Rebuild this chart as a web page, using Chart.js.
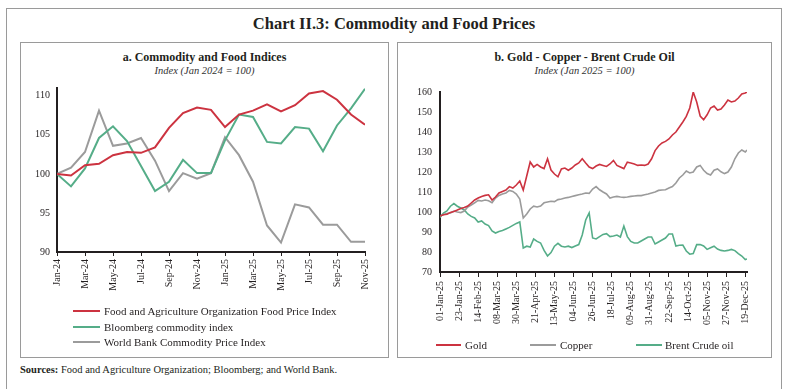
<!DOCTYPE html>
<html><head><meta charset="utf-8">
<script src="https://cdn.jsdelivr.net/npm/chart.js@4/dist/chart.umd.min.js"></script>
<style>
body{margin:0;width:788px;height:389px;background:#fff;position:relative;overflow:hidden;font-family:"Liberation Serif","Times New Roman",serif;color:#231f20}
.a{position:absolute;white-space:nowrap}
.box{position:absolute;border:1.5px solid #9a9a9a;box-sizing:border-box}
.t{text-align:center}
.leg{position:absolute;height:2px}
.lt{position:absolute;font-size:11px;line-height:14px;white-space:nowrap}
canvas{position:absolute}
</style></head><body>
<div class="box" style="left:6px;top:8px;width:776px;height:390px"></div>
<div class="box" style="left:20px;top:42px;width:369px;height:316px"></div>
<div class="box" style="left:397px;top:42px;width:375px;height:316px"></div>
<div class="a t" style="left:6px;width:776px;top:13px;font-size:16.5px;line-height:22px;font-weight:bold">Chart II.3: Commodity and Food Prices</div>
<div class="a t" style="left:20px;width:369px;top:50px;font-size:12px;line-height:14px;font-weight:bold">a. Commodity and Food Indices</div>
<div class="a t" style="left:20px;width:369px;top:64px;font-size:10.5px;line-height:13px;font-style:italic;color:#333">Index (Jan 2024 = 100)</div>
<div class="a t" style="left:397px;width:375px;top:50px;font-size:12px;line-height:14px;font-weight:bold">b. Gold - Copper - Brent Crude Oil</div>
<div class="a t" style="left:397px;width:375px;top:64px;font-size:10.5px;line-height:13px;font-style:italic;color:#333">Index (Jan 2025 = 100)</div>

<canvas id="c1" width="360" height="220" style="left:20px;top:75px"></canvas>
<canvas id="c2" width="370" height="250" style="left:398px;top:78px"></canvas>

<div class="leg" style="left:73px;top:310px;width:27px;background:#cc3340"></div>
<div class="lt" style="left:104px;top:304px">Food and Agriculture Organization Food Price Index</div>
<div class="leg" style="left:73px;top:326px;width:27px;background:#55ad88"></div>
<div class="lt" style="left:104px;top:320px">Bloomberg commodity index</div>
<div class="leg" style="left:73px;top:341px;width:27px;background:#9b9b9b"></div>
<div class="lt" style="left:104px;top:335px">World Bank Commodity Price Index</div>

<div class="leg" style="left:436px;top:344px;width:25px;background:#cc3340"></div>
<div class="lt" style="left:465px;top:338px">Gold</div>
<div class="leg" style="left:530px;top:344px;width:26px;background:#9b9b9b"></div>
<div class="lt" style="left:560px;top:338px">Copper</div>
<div class="leg" style="left:636px;top:344px;width:26px;background:#55ad88"></div>
<div class="lt" style="left:665px;top:338px">Brent Crude oil</div>

<div class="a" style="left:20px;top:363px;font-size:10.5px;line-height:14px"><b>Sources:</b> Food and Agriculture Organization; Bloomberg; and World Bank.</div>

<script>
// ---- Panel a data (monthly) ----
const months = ['Jan-24','Feb-24','Mar-24','Apr-24','May-24','Jun-24','Jul-24','Aug-24','Sep-24','Oct-24','Nov-24','Dec-24',
  'Jan-25','Feb-25','Mar-25','Apr-25','May-25','Jun-25','Jul-25','Aug-25','Sep-25','Oct-25','Nov-25'];
const fao = [100.0, 99.8, 101.1, 101.3, 102.4, 102.8, 102.7, 103.4, 105.9, 107.8, 108.5, 108.2, 106.0, 107.6, 108.1, 108.9, 108.0, 108.8, 110.3, 110.6, 109.5, 107.6, 106.3];
const bloomberg = [100.0, 98.4, 100.7, 104.6, 106.1, 104.2, 101.0, 97.8, 99.0, 101.8, 100.1, 100.1, 104.3, 107.6, 107.3, 104.1, 103.9, 106.0, 105.8, 102.9, 106.2, 108.4, 110.9];
const worldBank = [100.0, 100.8, 102.8, 108.1, 103.6, 103.9, 104.6, 101.7, 97.8, 100.1, 99.4, 100.1, 104.7, 102.4, 99.0, 93.4, 91.2, 96.1, 95.7, 93.5, 93.5, 91.3, 91.3];
const yTicksA = [90, 95, 100, 105, 110];

// ---- Panel b data (days since 01-Jan-25) ----
const dateLabels = ['01-Jan-25','23-Jan-25','14-Feb-25','08-Mar-25','30-Mar-25','21-Apr-25','13-May-25','04-Jun-25','26-Jun-25',
  '18-Jul-25','09-Aug-25','31-Aug-25','22-Sep-25','14-Oct-25','05-Nov-25','27-Nov-25','19-Dec-25'];
const dateTickDays = [0,22,44,66,88,110,132,154,176,198,220,242,264,286,308,330,352];
const days = [0,4,8,12,16,20,24,28,32,36,40,44,48,52,56,60,64,68,72,76,80,84,88,92,96,100,104,108,112,116,
  120,124,128,132,136,140,144,148,152,156,160,164,168,172,176,180,184,188,192,196,200,204,208,212,216,220,224,228,232,236,
  240,244,248,252,256,260,264,268,272,276,280,284,288,292,296,300,304,308,312,316,320,324,328,332,336,340,344,348,352,354];
const gold = [98, 98.6, 98.9, 99.8, 100.3, 101, 101.8, 102.3, 103, 104.5,
 106, 107, 107.8, 108.3, 108.6, 106, 107.5, 109.5, 110.3, 111,
 112.7, 112, 113.5, 115.5, 111, 118, 125, 122.5, 123.8, 122.5,
 121.7, 126.6, 121, 119, 117.6, 121.5, 122, 120.9, 122, 123.5,
 124.5, 126.6, 124.5, 122.5, 121.7, 123, 123.8, 123.3, 122.8, 124,
 125.8, 123.3, 122.5, 121.7, 124.9, 124.5, 124, 123.3, 123.5, 123.3,
 124, 126.6, 130.7, 133, 134.5, 135.3, 136.5, 138.5, 140, 142.5,
 145, 147.8, 152, 160, 155, 148, 146.1, 148.6, 152, 153,
 151, 151.5, 153.5, 156, 155, 155.5, 157, 159, 159.5, 160];
const copper = [98, 98.8, 99.2, 99.5, 100.5, 100, 99.7, 100.5, 102.5, 103.5,
 104.6, 105.8, 105.5, 106, 105.6, 104.6, 107, 108.3, 109, 109.5,
 110.8, 110.3, 109, 106.5, 97, 99, 101.5, 102.9, 102.5, 103,
 104.6, 105, 105.4, 105.2, 106.2, 106.5, 107, 107.3, 107.8, 108.2,
 108.6, 109, 109.5, 109.3, 111.5, 112.7, 111.1, 110, 109, 107,
 107.5, 107.8, 107.5, 107.3, 107.5, 107.8, 108, 108.2, 108.2, 108.6,
 109, 109.5, 110, 110.8, 111, 111.1, 112, 112.7, 114.5, 117,
 118.5, 120.5, 119.5, 120, 122.5, 123.3, 120.9, 119.2, 118.5, 120.9,
 121.5, 120.1, 119.2, 120, 122.5, 126.6, 129.5, 131, 130, 131];
const brent = [97.2, 99.5, 100.5, 102.9, 104.2, 102.9, 102, 101, 99, 97.8,
 97, 95, 95.5, 94, 93.2, 90.5, 89.5, 90.2, 90.7, 91.5,
 92.3, 93.3, 94.3, 95, 82, 82.9, 82.5, 86.5, 85.3, 84.5,
 80.8, 78, 79.7, 82.9, 84.3, 82.9, 82.5, 82.9, 82.2, 83,
 83.7, 88.5, 96, 99.5, 87, 86.5, 87.7, 88.8, 89.2, 87.7,
 88, 88.5, 87.5, 93, 87.7, 85.3, 84.5, 84.5, 85.5, 86.5,
 87.5, 87.5, 84, 85, 86, 87, 89, 89, 83, 83.4,
 83.5, 80.5, 78.9, 79.2, 83.7, 83.7, 83, 81.3, 82.1, 82.9,
 81.5, 80.8, 80.5, 80.8, 81.3, 80.7, 79.2, 78, 76.2, 76.5];

const RED = '#cc3340', GREEN = '#55ad88', GREY = '#9b9b9b', INK = '#231f20';
Chart.defaults.font.family = '"Liberation Serif","Times New Roman",serif';
Chart.defaults.font.size = 10;
Chart.defaults.color = INK;

function ds(label, xs, ys, color, w) {
  return { label, data: ys.map((v, i) => ({ x: xs[i], y: v })), borderColor: color, backgroundColor: color,
    borderWidth: w, pointRadius: 0, tension: 0, fill: false };
}
const idx = months.map((m, i) => i);
const monthTickIdx = idx.filter(i => i % 2 === 0);

new Chart(document.getElementById('c1'), {
  type: 'line',
  data: { datasets: [
    ds('Food and Agriculture Organization Food Price Index', idx, fao, RED, 2),
    ds('Bloomberg commodity index', idx, bloomberg, GREEN, 2),
    ds('World Bank Commodity Price Index', idx, worldBank, GREY, 2)
  ]},
  options: {
    responsive: false, animation: false,
    layout: { padding: { left: 0, top: 8, right: 13, bottom: 0 } },
    plugins: { legend: { display: false }, tooltip: { enabled: false } },
    scales: {
      x: { type: 'linear', min: 0, max: 22,
        afterFit: s => { s.height = 43; },
        afterBuildTicks: s => { s.ticks = monthTickIdx.map(v => ({ value: v })); },
        grid: { drawOnChartArea: false, color: INK, tickLength: 4, lineWidth: 1 },
        border: { color: INK, width: 2 },
        ticks: { autoSkip: false, maxRotation: 90, minRotation: 90, padding: 3,
          callback: v => months[v] } },
      y: { min: 90, max: 111,
        afterFit: s => { s.width = 37; },
        afterBuildTicks: s => { s.ticks = yTicksA.map(v => ({ value: v })); },
        grid: { display: true, drawOnChartArea: false, drawTicks: false },
        border: { color: INK, width: 2 },
        ticks: { padding: 7 } }
    }
  }
});

new Chart(document.getElementById('c2'), {
  type: 'line',
  data: { datasets: [
    ds('Gold', days, gold, RED, 1.6),
    ds('Copper', days, copper, GREY, 1.6),
    ds('Brent Crude oil', days, brent, GREEN, 1.6)
  ]},
  options: {
    responsive: false, animation: false,
    layout: { padding: { left: 0, top: 9, right: 21, bottom: 0 } },
    plugins: { legend: { display: false }, tooltip: { enabled: false } },
    scales: {
      x: { type: 'linear', min: 0, max: 354,
        afterFit: s => { s.height = 56; },
        afterBuildTicks: s => { s.ticks = dateTickDays.map(v => ({ value: v })); },
        grid: { drawOnChartArea: false, color: INK, tickLength: 5, lineWidth: 1 },
        border: { color: INK, width: 2 },
        ticks: { autoSkip: false, maxRotation: 90, minRotation: 90, padding: 4,
          callback: v => dateLabels[dateTickDays.indexOf(v)] } },
      y: { min: 70, max: 160,
        afterFit: s => { s.width = 42; },
        grid: { display: true, drawOnChartArea: false, drawTicks: false },
        border: { color: INK, width: 2 },
        ticks: { stepSize: 10, padding: 8 } }
    }
  }
});
</script>
</body></html>
